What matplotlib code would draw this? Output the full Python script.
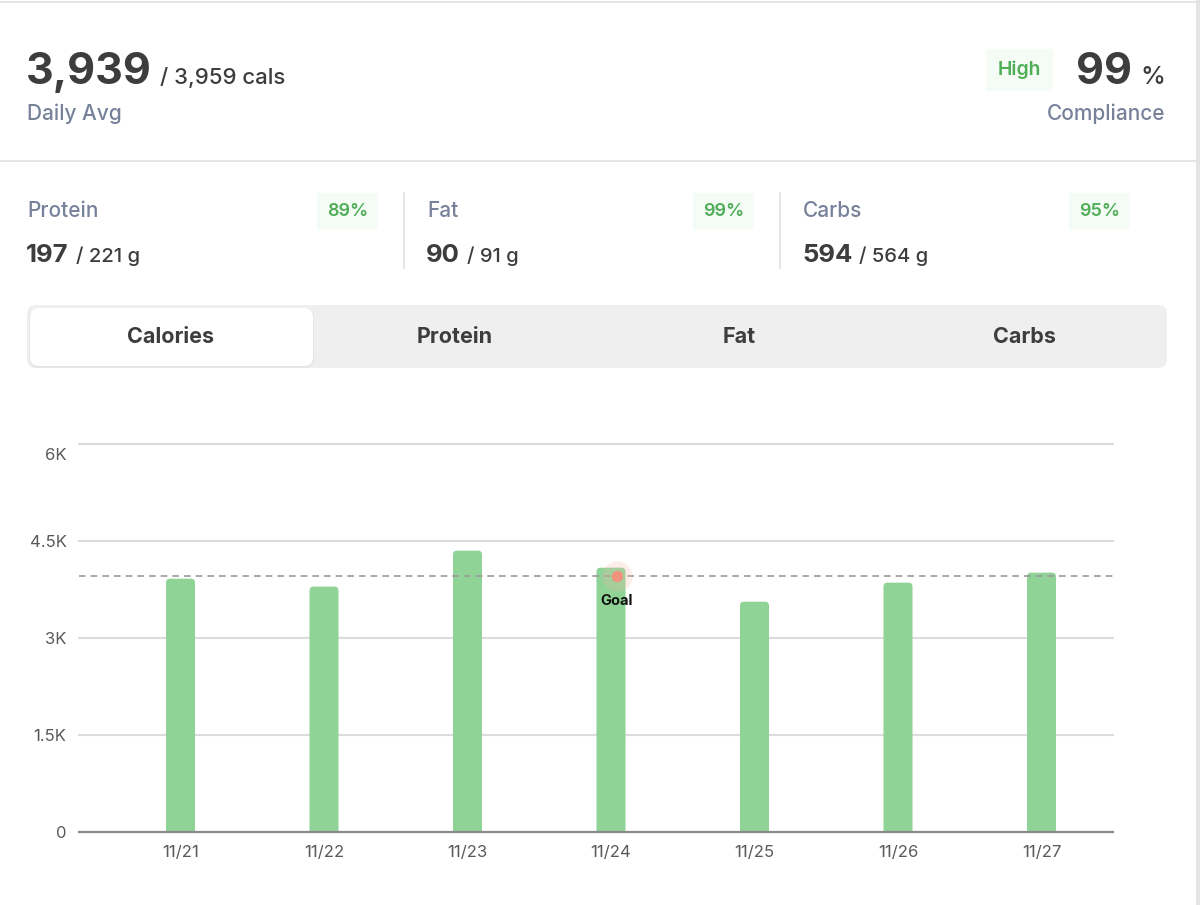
import numpy as np
import matplotlib
matplotlib.use("Agg")
import matplotlib.pyplot as plt
from matplotlib.patches import FancyBboxPatch, Rectangle
from matplotlib.transforms import ScaledTranslation

# -------- DATA --------
dates = ["11/21", "11/22", "11/23", "11/24", "11/25", "11/26", "11/27"]
calories = [3912, 3789, 4345, 4082, 3557, 3851, 4005]
goal = 3959
daily_avg = "3,939"
goal_text = "3,959"
compliance = "99"
compliance_level = "High"

macro_names = ["Protein", "Fat", "Carbs"]
macro_actual = [197, 90, 594]
macro_goal = [221, 91, 564]
macro_pct = ["89%", "99%", "95%"]

tabs = ["Calories", "Protein", "Fat", "Carbs"]
yticks = [0, 1500, 3000, 4500, 6000]
ytick_labels = ["0", "1.5K", "3K", "4.5K", "6K"]

# -------- STYLE --------
plt.rcParams["font.family"] = ["Inter", "DejaVu Sans"]
DARK = "#3d3d3d"
SLATE = "#77819a"
GREEN = "#4fae57"
GREEN_BG = "#f5fbf5"
BAR = "#8fd396"
LINE = "#e2e2e2"

W, H = 1200, 905
fig = plt.figure(figsize=(W / 100, H / 100), dpi=100)
fig.patch.set_facecolor("white")

# background axes in pixel coordinates (origin top-left)
bg = fig.add_axes([0, 0, 1, 1])
bg.set_xlim(0, W)
bg.set_ylim(H, 0)
bg.axis("off")

bg.plot([0, 1196], [2.5, 2.5], color=LINE, lw=1.2)
bg.plot([0, 1196], [161.5, 161.5], color=LINE, lw=1.2)
bg.add_patch(Rectangle((1196, 0), 4, H, color="#e4e4e4", lw=0))

renderer = fig.canvas.get_renderer()


def px_width(t):
    bb = t.get_window_extent(renderer=renderer)
    return bb.width


# -------- HEADER --------
big = bg.text(26, 84, daily_avg, fontsize=31, fontweight="bold", color=DARK, va="baseline")
bg.text(26 + px_width(big) + 8, 84, f"/ {goal_text} cals", fontsize=16, fontweight="medium",
        color=DARK, va="baseline")
bg.text(27, 120, "Daily Avg", fontsize=15, fontweight="medium", color=SLATE, va="baseline")

pct = bg.text(1165, 84, "%", fontsize=18, fontweight="medium", color=DARK, va="baseline", ha="right")
big99 = bg.text(1165 - px_width(pct) - 8, 84, compliance, fontsize=31, fontweight="bold",
                color=DARK, va="baseline", ha="right")
left99 = 1165 - px_width(pct) - 8 - px_width(big99)
bg.text(left99 - 35, 75, compliance_level, fontsize=14, fontweight="semibold", color=GREEN,
        va="baseline", ha="right",
        bbox=dict(boxstyle="square,pad=0.6", fc=GREEN_BG, ec="none"))
bg.text(1165, 120, "Compliance", fontsize=15, fontweight="medium", color=SLATE,
        va="baseline", ha="right")

# -------- MACROS --------
col_x = [27, 427, 803]
pct_right = [368, 744, 1120]
for i, name in enumerate(macro_names):
    bg.text(col_x[i], 217, name, fontsize=15, fontweight="medium", color=SLATE, va="baseline")
    bg.text(pct_right[i], 216, macro_pct[i], fontsize=13, fontweight="semibold", color=GREEN,
            va="baseline", ha="right",
            bbox=dict(boxstyle="square,pad=0.55", fc=GREEN_BG, ec="none"))
    v = bg.text(col_x[i] - 1, 262, str(macro_actual[i]), fontsize=18.5, fontweight="bold",
                color=DARK, va="baseline")
    bg.text(col_x[i] - 1 + px_width(v) + 7, 262, f"/ {macro_goal[i]} g", fontsize=14.5,
            fontweight="medium", color=DARK, va="baseline")
for xd in [403.5, 779.5]:
    bg.plot([xd, xd], [193, 268], color=LINE, lw=1.2)

# -------- TABS --------
bg.add_patch(FancyBboxPatch((27, 305), 1140, 63, boxstyle="round,pad=0,rounding_size=9",
                            fc="#efefef", ec="none"))
bg.add_patch(FancyBboxPatch((29, 308), 285, 60, boxstyle="round,pad=0,rounding_size=9",
                            fc="#e6e6e6", ec="none"))
bg.add_patch(FancyBboxPatch((30, 308), 283, 58, boxstyle="round,pad=0,rounding_size=9",
                            fc="white", ec="none"))
tab_w = 1140 / len(tabs)
for i, t in enumerate(tabs):
    bg.text(27 + tab_w * (i + 0.5) + (1.5 if i == 0 else 0), 337, t, fontsize=15.5,
            fontweight="bold", color=DARK, ha="center", va="center")

# -------- CHART --------
x0, x1, ytop, ybot = 79, 1113, 443.5, 832
ax = fig.add_axes([x0 / W, 1 - ybot / H, (x1 - x0) / W, (ybot - ytop) / H])
ax.set_facecolor("none")
ax.set_zorder(2)
x = np.arange(len(dates))
step = 143.5
ax.set_xlim((x0 - 180.5) / step, (x1 - 180.5) / step)
ax.set_ylim(0, 6000)

for yv in yticks[1:]:
    ax.axhline(yv, color="#dcdcdc", lw=1.5, zorder=1, clip_on=False)

bw = 29 / step
bars = ax.bar(x, calories, width=bw, color=BAR, zorder=2)
r_x = 4 / step
r_y = 4 * 6000 / (ybot - ytop)
for b in bars:
    b.set_visible(False)
    ax.add_patch(FancyBboxPatch((b.get_x(), -r_y), b.get_width(), b.get_height() + r_y,
                                boxstyle=f"round,pad=0,rounding_size={r_x}",
                                mutation_aspect=r_y / r_x, fc=BAR, ec="none", zorder=2))

ax.axhline(0, color="#8a8a8a", lw=1.6, zorder=3, clip_on=False)
ax.axhline(goal, color="#9a9a9a", lw=1.2, ls=(0, (4, 3)), zorder=3)

# goal marker
gx = 3 + 5.5 / step
ax.scatter([gx], [goal], s=470, color="#f6b8a8", alpha=0.25, lw=0, zorder=4)
ax.scatter([gx], [goal], s=65, color="#f0927c", lw=0, zorder=5)
ax.annotate("Goal", (gx, goal), xytext=(0, -18), textcoords="offset points",
            ha="center", va="center", fontsize=10.5, fontweight="bold", color="#111111", zorder=6)

ax.set_xticks(x, dates)
ax.set_yticks(yticks, ytick_labels)
ax.tick_params(axis="both", length=0, labelsize=12, colors="#5a5a5a")
ax.tick_params(axis="x", pad=9)
ax.tick_params(axis="y", pad=9)
for s in ax.spines.values():
    s.set_visible(False)

# top label sits a bit below its gridline
top_tick = ax.yaxis.get_major_ticks()[-1]
top_tick.label1.set_transform(top_tick.label1.get_transform()
                              + ScaledTranslation(0, -10 / 100, fig.dpi_scale_trans))

fig.savefig("out.png", dpi=100, facecolor="white")
